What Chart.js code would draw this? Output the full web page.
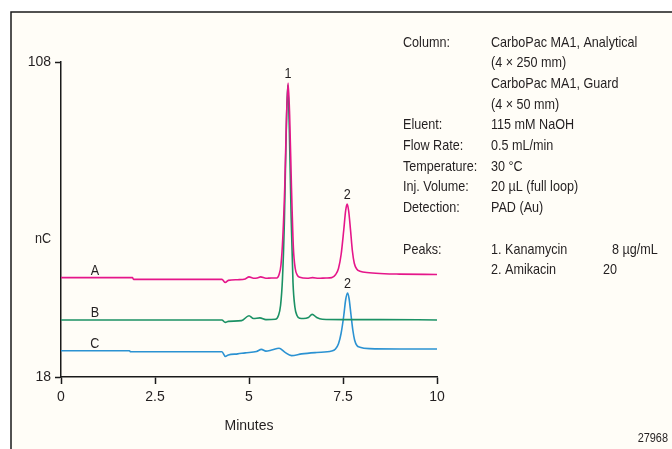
<!DOCTYPE html>
<html>
<head>
<meta charset="utf-8">
<script src="https://cdn.jsdelivr.net/npm/chart.js@4.4.1/dist/chart.umd.min.js"></script>
<style>
  html, body { margin: 0; padding: 0; background: #fff; }
  canvas { display: block; }
</style>
</head>
<body>
<canvas id="grafico" width="672" height="449"></canvas>
<script>
const FONTE = '"Liberation Sans", Arial, sans-serif';
const COR_TEXTO = '#231f20';
const ESTREITO = 0.84; // fonte "condensada" na mão

// traço A (magenta)
const tempoA = [0, 1.9, 1.93, 4.28, 4.37, 4.45, 4.7, 4.9, 5.0, 5.12, 5.22, 5.31, 5.45, 5.6, 5.74,
  5.80, 5.85, 5.90, 5.95, 6.00, 6.04, 6.08, 6.13, 6.18, 6.23, 6.28, 6.35,
  6.55, 6.69, 6.85, 7.05, 7.20, 7.30, 7.38, 7.45, 7.52, 7.57, 7.61, 7.65, 7.70, 7.75, 7.80,
  7.87, 7.95, 8.2, 8.6, 9.0, 10];
const sinalA = [46.4, 46.4, 45.9, 45.9, 45.0, 45.6, 45.8, 46.0, 46.6, 46.2, 46.3, 46.6, 46.2, 46.3, 46.3,
  47.3, 50, 58, 72, 93, 102, 93, 72, 55, 49, 47.2, 46.5,
  46.2, 46.4, 46.2, 46.3, 46.4, 47.2, 49, 53, 60, 65.5, 67.4, 65.5, 60, 54, 50.5,
  48.8, 48.2, 47.8, 47.5, 47.4, 47.3];

// traço B (verde)
const tempoB = [0, 4.28, 4.37, 4.45, 4.8, 5.0, 5.12, 5.29, 5.45, 5.70,
  5.78, 5.84, 5.89, 5.94, 5.99, 6.03, 6.07, 6.12, 6.17, 6.22, 6.28, 6.35, 6.45,
  6.58, 6.68, 6.80, 6.95, 7.5, 8.5, 10];
const sinalB = [34.3, 34.3, 33.6, 33.9, 34.1, 35.5, 34.7, 34.9, 34.4, 34.5,
  35.5, 38.5, 46, 62, 88, 101.4, 90, 64, 45, 38, 35.5, 34.8, 34.7,
  35.0, 35.9, 35.0, 34.5, 34.4, 34.4, 34.3];

// traço C (azul)
const tempoC = [0, 1.82, 1.85, 4.28, 4.37, 4.45, 4.7, 4.9, 5.2, 5.33, 5.45, 5.6, 5.8, 5.95,
  6.13, 6.4, 6.8, 7.20, 7.30, 7.38, 7.45, 7.52, 7.57, 7.62, 7.66, 7.71, 7.76, 7.81,
  7.87, 7.95, 8.2, 9.0, 10];
const sinalC = [25.5, 25.5, 25.2, 25.2, 23.9, 24.3, 24.6, 24.9, 25.3, 25.9, 25.4, 25.7, 26.2, 25.1,
  24.1, 24.6, 25.0, 25.4, 26.0, 27.5, 30.5, 35.5, 40, 42, 40.5, 36, 31.5, 28.5,
  27, 26.5, 26.1, 26.0, 26.0];

const nomesTracos = ['A', 'B', 'C'];
const coresTracos = ['#e5168a', '#1b9164', '#2b92d2'];

const marcasX = [0, 2.5, 5, 7.5, 10];
const marcasY = [18, 108];

const rotulosPico = ['1', '2', '2'];
const tracoPico = [0, 0, 2];
const tempoPico = [6.04, 7.61, 7.62];
const alturaPico = [102, 67.4, 42];

const rotulosCondicoes = ['Column:', '', '', '', 'Eluent:', 'Flow Rate:', 'Temperature:', 'Inj. Volume:', 'Detection:'];
const valoresCondicoes = ['CarboPac MA1, Analytical', '(4 × 250 mm)', 'CarboPac MA1, Guard', '(4 × 50 mm)',
  '115 mM NaOH', '0.5 mL/min', '30 °C', '20 µL (full loop)', 'PAD (Au)'];
const nomesPicos = ['1. Kanamycin', '2. Amikacin'];
const concPicos = ['8 µg/mL', '20'];

function montaPontos(tempos, sinais) {
  return tempos.map((t, i) => ({ x: t, y: sinais[i] }));
}

function escreve(ctx, texto, x, y, alinha) {
  ctx.save();
  ctx.translate(x, y);
  ctx.scale(ESTREITO, 1);
  ctx.textAlign = alinha || 'left';
  ctx.fillText(texto, 0, 0);
  ctx.restore();
}

const series = [[tempoA, sinalA], [tempoB, sinalB], [tempoC, sinalC]];

const moldura = {
  id: 'moldura',
  beforeDraw(chart) {
    const ctx = chart.ctx;
    ctx.save();
    ctx.fillStyle = '#ffffff';
    ctx.fillRect(0, 0, chart.width, chart.height);
    ctx.fillStyle = '#fffdf7';
    ctx.fillRect(11, 12, chart.width - 11, chart.height - 12);
    ctx.strokeStyle = '#1a1a1a';
    ctx.lineWidth = 1.5;
    ctx.beginPath();
    ctx.moveTo(11, chart.height);
    ctx.lineTo(11, 12);
    ctx.lineTo(chart.width, 12);
    ctx.stroke();
    ctx.restore();
  }
};

const textos = {
  id: 'textos',
  afterDraw(chart) {
    const ctx = chart.ctx;
    const sx = chart.scales.x;
    const sy = chart.scales.y;
    ctx.save();
    ctx.fillStyle = COR_TEXTO;
    ctx.font = '15px ' + FONTE;
    ctx.textBaseline = 'alphabetic';

    // rótulos dos picos
    rotulosPico.forEach((r, i) => {
      escreve(ctx, r, sx.getPixelForValue(tempoPico[i]), sy.getPixelForValue(alturaPico[i]) - 5, 'center');
    });

    // letras dos traços
    nomesTracos.forEach((n, i) => {
      escreve(ctx, n, sx.getPixelForValue(0.9), sy.getPixelForValue(series[i][1][0]) - 3, 'center');
    });

    escreve(ctx, 'nC', 43, 243, 'center');

    // condições
    const passo = 20.7;
    rotulosCondicoes.forEach((r, i) => {
      const y = 46.5 + i * passo;
      if (r) escreve(ctx, r, 403, y);
      escreve(ctx, valoresCondicoes[i], 491, y);
    });
    nomesPicos.forEach((n, i) => {
      const y = 46.5 + (10 + i) * passo;
      if (i === 0) escreve(ctx, 'Peaks:', 403, y);
      escreve(ctx, n, 491, y);
    });
    escreve(ctx, concPicos[0], 612, 46.5 + 10 * passo);
    escreve(ctx, concPicos[1], 603, 46.5 + 11 * passo);

    ctx.font = '13px ' + FONTE;
    escreve(ctx, '27968', 668, 442, 'right');
    ctx.restore();
  }
};

new Chart(document.getElementById('grafico'), {
  type: 'line',
  data: {
    datasets: series.map((s, i) => ({
      label: nomesTracos[i],
      data: montaPontos(s[0], s[1]),
      borderColor: coresTracos[i],
      borderWidth: 1.6,
      pointRadius: 0,
      fill: false,
      cubicInterpolationMode: 'monotone'
    }))
  },
  options: {
    responsive: false,
    devicePixelRatio: 1,
    animation: false,
    events: [],
    layout: { padding: { left: 0, top: 62, right: 235, bottom: 0 } },
    plugins: { legend: { display: false }, tooltip: { enabled: false } },
    scales: {
      x: {
        type: 'linear',
        min: 0,
        max: 10,
        afterBuildTicks: (scale) => { scale.ticks = marcasX.map(v => ({ value: v })); },
        afterFit: (scale) => { scale.height = 72; },
        border: { display: true, color: '#1a1a1a', width: 1.5 },
        grid: { drawOnChartArea: false, tickLength: 7, tickColor: '#1a1a1a', tickWidth: 1.5 },
        ticks: { color: COR_TEXTO, font: { family: FONTE, size: 14 }, padding: 5, maxRotation: 0, autoSkip: false },
        title: { display: true, text: 'Minutes', color: COR_TEXTO, font: { family: FONTE, size: 14 }, padding: { top: 0, bottom: 14 } }
      },
      y: {
        type: 'linear',
        min: 18,
        max: 108,
        afterBuildTicks: (scale) => { scale.ticks = marcasY.map(v => ({ value: v })); },
        afterFit: (scale) => { scale.width = 61; },
        border: { display: true, color: '#1a1a1a', width: 1.5 },
        grid: { drawOnChartArea: false, tickLength: 6, tickColor: '#1a1a1a', tickWidth: 1.5 },
        ticks: { color: COR_TEXTO, font: { family: FONTE, size: 14 }, padding: 4 }
      }
    }
  },
  plugins: [moldura, textos]
});
</script>
</body>
</html>
